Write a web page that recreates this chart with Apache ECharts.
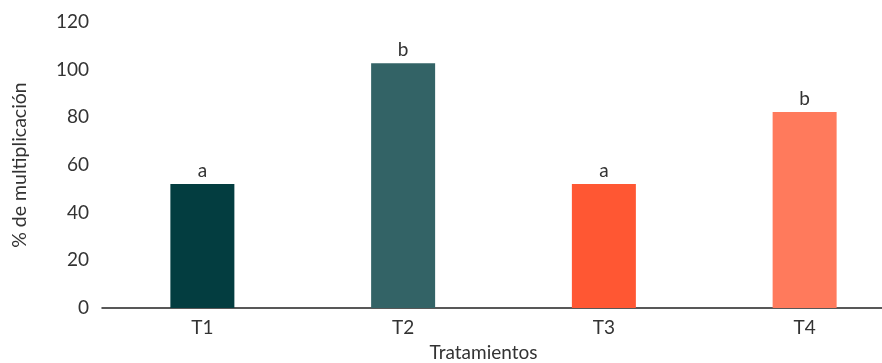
<!DOCTYPE html>
<html>
<head>
<meta charset="utf-8">
<script src="https://cdn.jsdelivr.net/npm/echarts@6/dist/echarts.min.js"></script>
<style>
  html, body { margin: 0; padding: 0; background: #fff; }
  #chart { width: 882px; height: 363px; }
</style>
</head>
<body>
<div id="chart"></div>
<script>
let categories = ['T1', 'T2', 'T3', 'T4'];
let values = [52, 102.7, 52, 82.2];
let letters = ['a', 'b', 'a', 'b'];
let barColors = ['#033D40', '#336366', '#FF5733', '#FF7A5C'];

let myChart = echarts.init(document.getElementById('chart'));

let option = {
    animation: false,
    textStyle: { fontFamily: 'Lato' },
    grid: { left: 102, top: 22, bottom: 55, width: 803, outerBoundsMode: 'none', containLabel: false },
    xAxis: {
        type: 'category',
        data: categories,
        name: 'Tratamientos',
        nameLocation: 'middle',
        nameGap: 35,
        nameTextStyle: { fontSize: 19, color: '#333', padding: [0, 40, 0, 0] },
        axisLine: { lineStyle: { color: '#222', width: 1.5 } },
        axisTick: { show: false },
        axisLabel: { fontSize: 19, color: '#333', margin: 10 }
    },
    yAxis: {
        type: 'value',
        min: 0,
        max: 120,
        interval: 20,
        name: '% de multiplicación',
        nameLocation: 'middle',
        nameGap: 72,
        nameTextStyle: { fontSize: 19.5, color: '#333' },
        axisLine: { show: false },
        axisTick: { show: false },
        splitLine: { show: false },
        axisLabel: { fontSize: 19, color: '#333', margin: 13 }
    },
    series: [{
        type: 'bar',
        barWidth: 64,
        data: values.map(function (v, i) {
            return {
                value: v,
                itemStyle: { color: barColors[i] },
                label: { formatter: letters[i] }
            };
        }),
        label: {
            show: true,
            position: 'top',
            distance: 4,
            fontSize: 19,
            color: '#333'
        }
    }]
};
myChart.setOption(option);
</script>
</body>
</html>
